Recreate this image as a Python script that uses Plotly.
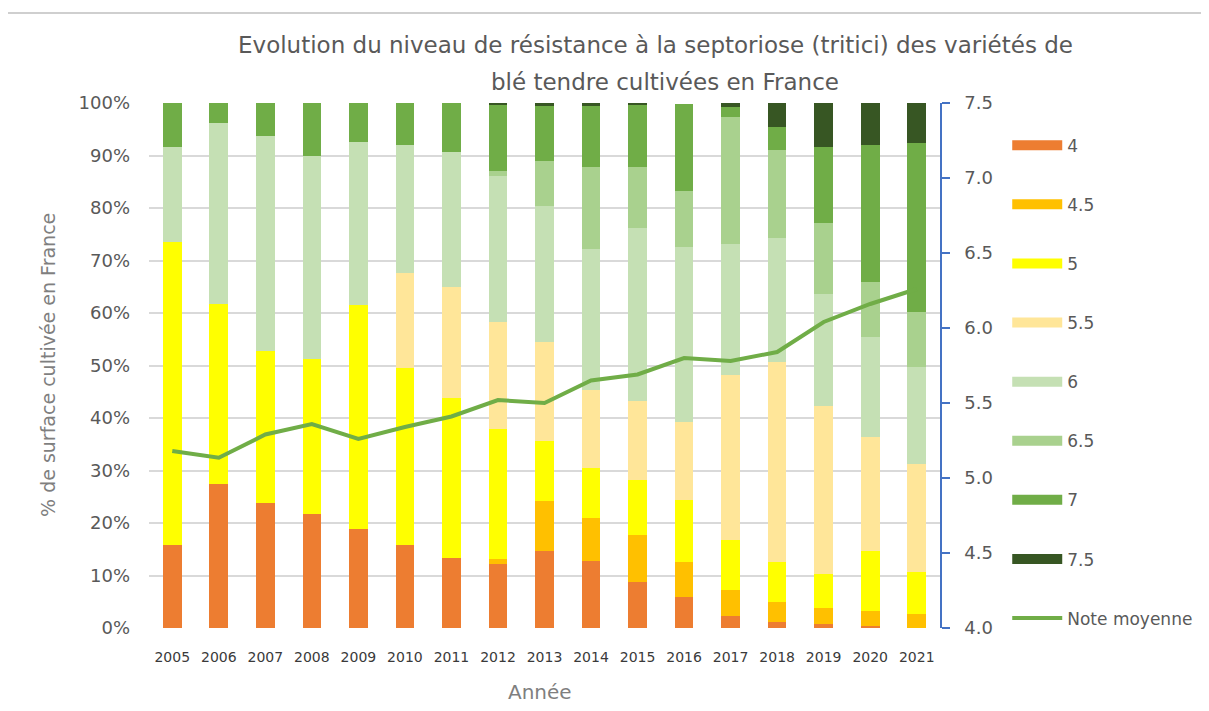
import plotly.graph_objects as go

years = [str(y) for y in range(2005, 2022)]

# share of cultivated area (%) by resistance score
s4   = [15.8, 27.4, 23.9, 21.7, 18.8, 15.9, 13.3, 12.2, 14.7, 12.8, 8.7, 6.0, 2.3, 1.1, 0.8, 0.4, 0.0]
s4_5 = [0.0, 0.0, 0.0, 0.0, 0.0, 0.0, 0.0, 0.9, 9.5, 8.1, 9.1, 6.5, 4.9, 3.8, 3.1, 2.8, 2.7]
s5   = [57.8, 34.4, 28.9, 29.5, 42.7, 33.6, 30.5, 24.9, 11.4, 9.5, 10.4, 11.9, 9.6, 7.6, 6.3, 11.5, 7.9]
s5_5 = [0.0, 0.0, 0.0, 0.0, 0.0, 18.1, 21.1, 20.3, 18.9, 14.9, 15.0, 14.9, 31.4, 38.2, 32.1, 21.7, 20.6]
s6   = [18.1, 34.3, 41.0, 38.7, 31.1, 24.4, 25.8, 27.8, 25.9, 26.9, 32.9, 33.3, 24.9, 23.5, 21.3, 19.0, 18.5]
s6_5 = [0.0, 0.0, 0.0, 0.0, 0.0, 0.0, 0.0, 1.0, 8.6, 15.6, 11.8, 10.6, 24.2, 16.8, 13.6, 10.6, 10.4]
s7   = [8.3, 3.9, 6.2, 10.1, 7.4, 8.0, 9.3, 12.6, 10.5, 11.7, 11.8, 16.6, 1.9, 4.5, 14.4, 26.0, 32.3]
s7_5 = [0.0, 0.0, 0.0, 0.0, 0.0, 0.0, 0.0, 0.3, 0.5, 0.5, 0.3, 0.0, 0.8, 4.5, 8.4, 8.0, 7.6]

note_moyenne = [5.18, 5.135, 5.29, 5.36, 5.26, 5.34, 5.41, 5.52, 5.50, 5.65, 5.69, 5.80, 5.78, 5.84, 6.04, 6.16, 6.26]

series_names = ["4", "4.5", "5", "5.5", "6", "6.5", "7", "7.5"]
series_values = [s4, s4_5, s5, s5_5, s6, s6_5, s7, s7_5]
series_colors = ["#ED7D31", "#FFC000", "#FFFF00", "#FFE699", "#C5E0B4", "#A9D18E", "#70AD47", "#375623"]

title_line1 = "Evolution du niveau de résistance à la septoriose (tritici) des variétés de"
title_line2 = "blé tendre cultivées en France"
y_title = "% de surface cultivée en France"
x_title = "Année"

FONT = "DejaVu Sans"
gray = "#595959"
line_green = "#70AD47"

fig = go.Figure()
for name, vals, col in zip(series_names, series_values, series_colors):
    fig.add_trace(go.Bar(
        x=years, y=vals, name=name, marker_color=col, marker_line_width=0,
        showlegend=False, yaxis="y",
    ))

# legend entries drawn as wide swatches
for name, col in zip(series_names, series_colors):
    fig.add_trace(go.Scatter(
        x=[None], y=[None], name=name, mode="lines",
        line=dict(color=col, width=12), legendgroup=name, yaxis="y",
    ))

fig.add_trace(go.Scatter(
    x=years, y=note_moyenne, name="Note moyenne", mode="lines",
    line=dict(color=line_green, width=4), yaxis="y2", legendgroup="nm",
))

fig.update_layout(
    width=1209, height=711,
    margin=dict(l=141, r=277, t=95, b=91),
    paper_bgcolor="white", plot_bgcolor="white",
    barmode="stack", bargap=0.6,
    font=dict(family=FONT, color=gray),
    xaxis=dict(
        type="category", showgrid=False, showline=False, ticks="",
        tickfont=dict(size=14, color="#3a3a3a"), ticklabelstandoff=19,
    ),
    yaxis=dict(
        range=[0, 100], dtick=10, ticksuffix="%", showgrid=True,
        gridcolor="#d9d9d9", gridwidth=1.5, zeroline=False, showline=False,
        tickfont=dict(size=18, color=gray), ticklabelstandoff=18,
    ),
    yaxis2=dict(
        overlaying="y", side="right", range=[4, 7.5], dtick=0.5, tickformat=".1f",
        showgrid=False, zeroline=False, showline=True, linecolor="#4472C4", linewidth=1.5,
        ticks="outside", ticklen=8, tickcolor="#4472C4", tickwidth=1.5,
        tickfont=dict(size=18, color=gray), ticklabelstandoff=11,
    ),
    legend=dict(
        x=1.085, xanchor="left", y=0.953, yanchor="top",
        traceorder="grouped", tracegroupgap=34, itemwidth=50,
        font=dict(size=17, color=gray),
        bgcolor="rgba(0,0,0,0)",
    ),
    annotations=[
        dict(text=title_line1, xref="paper", yref="paper", x=0.64, y=1.1105,
             xanchor="center", yanchor="middle", showarrow=False,
             font=dict(size=23, color=gray, family=FONT)),
        dict(text=title_line2, xref="paper", yref="paper", x=0.652, y=1.04,
             xanchor="center", yanchor="middle", showarrow=False,
             font=dict(size=23, color=gray, family=FONT)),
        dict(text=y_title, xref="paper", yref="paper", x=-0.1277, y=0.501,
             xanchor="center", yanchor="middle", showarrow=False, textangle=-90,
             font=dict(size=19, color="#7f7f7f", family=FONT)),
        dict(text=x_title, xref="paper", yref="paper", x=0.494, y=-0.122,
             xanchor="center", yanchor="middle", showarrow=False,
             font=dict(size=20, color="#7f7f7f", family=FONT)),
    ],
    shapes=[
        dict(type="line", xref="paper", yref="paper", x0=-0.1833, x1=1.4, y0=1.1714, y1=1.1714,
             line=dict(color="#bfbfbf", width=1.5)),
        dict(type="line", xref="paper", yref="paper", x0=-0.1833, x1=-0.1833, y0=1.1714, y1=-0.2,
             line=dict(color="#bfbfbf", width=1.5)),
    ],
)

fig.write_html("out.html")
